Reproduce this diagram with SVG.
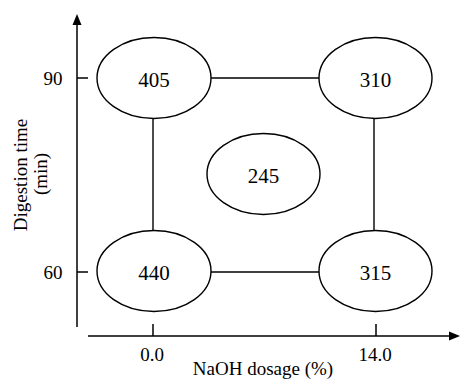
<svg xmlns="http://www.w3.org/2000/svg" width="460" height="379" viewBox="0 0 460 379">
<style>
.ax{stroke:#000;stroke-width:1.5;fill:none}
.ln{stroke:#000;stroke-width:1.4;fill:none}
.nd ellipse{fill:#fff;stroke:#000;stroke-width:1.4}
.nd text{font-family:"Liberation Serif","Times New Roman",serif;font-size:21px;fill:#000;text-anchor:middle}
.lb{font-family:"Liberation Serif","Times New Roman",serif;font-size:19px;fill:#000;text-anchor:middle}
</style>
<rect width="460" height="379" fill="#fff"/>
<g id="axes">
<line class="ax" x1="77" y1="24" x2="77" y2="327"/>
<polygon points="77,14 72.5,25 81.5,25" fill="#000"/>
<line class="ax" x1="88" y1="336" x2="450" y2="336"/>
<polygon points="460,336 449,331.5 449,340.5" fill="#000"/>
<line class="ax" x1="77" y1="78" x2="88" y2="78"/>
<line class="ax" x1="77" y1="272" x2="88" y2="272"/>
<line class="ax" x1="153" y1="324" x2="153" y2="336"/>
<line class="ax" x1="376" y1="324" x2="376" y2="336"/>
<text class="lb" x="53" y="85">90</text>
<text class="lb" x="53" y="279">60</text>
<text class="lb" x="152" y="361">0.0</text>
<text class="lb" x="375" y="361">14.0</text>
<text class="lb" x="263" y="375">NaOH dosage (%)</text>
<text class="lb" transform="translate(27,175) rotate(-90)">Digestion time</text>
<text class="lb" transform="translate(47,174) rotate(-90)">(min)</text>
</g>
<g id="connectors">
<line class="ln" x1="211" y1="78" x2="319" y2="78"/>
<line class="ln" x1="211" y1="272" x2="319" y2="272"/>
<line class="ln" x1="153" y1="118" x2="153" y2="231"/>
<line class="ln" x1="374" y1="118" x2="374" y2="231"/>
</g>
<g id="n405" class="nd"><ellipse cx="154" cy="78" rx="57" ry="40.5"/><text x="154" y="87">405</text></g>
<g id="n310" class="nd"><ellipse cx="375.5" cy="78" rx="56.5" ry="40.5"/><text x="375.5" y="87">310</text></g>
<g id="n245" class="nd"><ellipse cx="263.5" cy="174" rx="56.5" ry="40.5"/><text x="263.5" y="183">245</text></g>
<g id="n440" class="nd"><ellipse cx="154" cy="271" rx="57" ry="40.5"/><text x="154" y="280">440</text></g>
<g id="n315" class="nd"><ellipse cx="375.5" cy="271" rx="56.5" ry="40.5"/><text x="375.5" y="280">315</text></g>
</svg>
